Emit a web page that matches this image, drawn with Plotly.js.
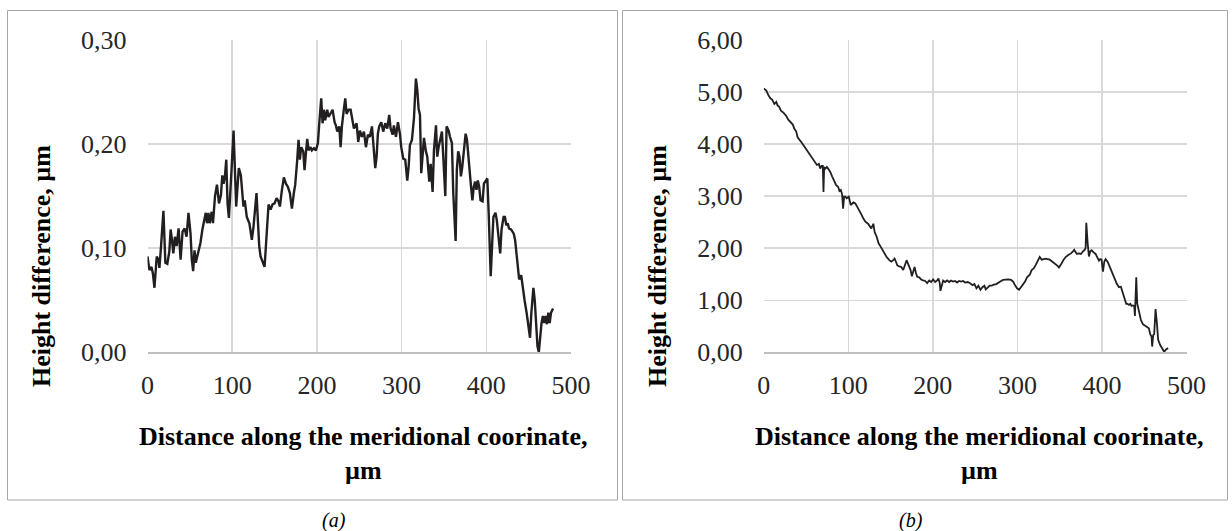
<!DOCTYPE html>
<html>
<head>
<meta charset="utf-8">
<script src="https://cdn.plot.ly/plotly-3.0.1.min.js"></script>
<style>
html,body{margin:0;padding:0;background:#fff;}
#chart{width:1232px;height:531px;}
</style>
</head>
<body>
<div id="chart"></div>
<script>
// Panel (a): height difference vs distance
var aX = [0,2.3,4.7,6.3,8.2,10.9,12.9,14.1,16,18.8,21.1,23.4,25.8,27.3,28.9,30.5,32.4,34.4,36.7,39.1,41.4,43.8,46.1,48.4,50.8,52.3,53.9,55.5,57,59.8,62.5,64.8,67.2,68.8,70.3,71.9,73.4,75.8,77.3,79.7,82,84.4,86.7,88.3,89.8,91.4,93,94.5,96.1,97.7,99.2,101.6,103.1,104.7,106.3,107.8,110.2,111.7,113.3,114.8,117.2,120.3,123.2,125.2,127.2,128.7,130.3,131.9,133.5,135.8,138.2,139.8,141.3,142.9,145.3,147.6,150,152.4,154.7,156.3,158.7,161,163.4,165.7,168.1,170.5,172.8,174.4,176.8,178.3,179.9,181.5,183.9,185.4,187,188.6,190.2,192.5,194.1,196.5,198.8,201.2,202.8,205.1,206.7,208.3,209.8,212.2,213.8,216.1,218.5,220.9,222.4,224,226.4,228,229.5,231.9,233.5,235,237.4,239.8,241.3,243.7,246.9,248.8,250.8,253.1,255.5,257.9,260.2,262.6,265,266.5,268.9,270.5,272,273.6,276,278.3,280.7,283.1,285.4,287,289.4,290.9,293.3,295.7,298,299.6,302,304.3,306.7,308.3,309.8,312.2,314.6,316.9,318.5,320.1,321.7,323.2,324.8,326.4,328.7,330.3,332.7,334.3,336.6,338.2,340.6,342.1,343.7,345.3,347.6,349.2,351.6,353.1,355.5,357.1,359.4,361,363.8,365.2,366.8,368.4,370,371.6,374,375.6,377.2,378.8,380.4,382,383.6,385.2,386.8,388.4,390,391.6,393.2,395.6,397.2,399.6,401.2,402.8,405.2,406.8,408.4,410.8,412.4,414.8,416.4,418,420.4,422,423.6,425.2,426.8,429.2,430.8,432.4,434,435.6,437.2,438.8,441.2,442.8,445.2,447.6,450,451.6,453.2,455.6,457.2,458.8,460.4,462,463.6,465.2,466.8,468.4,470,471.6,473.2,474.8,476.4,478.8];
var aY = [0.092,0.079,0.082,0.076,0.062,0.092,0.089,0.081,0.102,0.136,0.086,0.085,0.097,0.118,0.108,0.095,0.111,0.102,0.119,0.089,0.116,0.119,0.111,0.134,0.114,0.089,0.078,0.098,0.086,0.095,0.105,0.118,0.127,0.134,0.124,0.134,0.124,0.135,0.124,0.150,0.161,0.143,0.151,0.170,0.162,0.169,0.185,0.143,0.129,0.159,0.175,0.213,0.175,0.140,0.159,0.177,0.170,0.153,0.140,0.146,0.130,0.124,0.108,0.121,0.140,0.153,0.127,0.102,0.092,0.086,0.082,0.102,0.127,0.142,0.137,0.142,0.143,0.148,0.145,0.140,0.156,0.168,0.162,0.159,0.153,0.138,0.153,0.161,0.185,0.204,0.185,0.197,0.193,0.175,0.191,0.205,0.194,0.197,0.194,0.196,0.194,0.201,0.220,0.244,0.220,0.233,0.223,0.233,0.226,0.229,0.233,0.221,0.218,0.212,0.217,0.197,0.217,0.234,0.244,0.229,0.233,0.233,0.226,0.215,0.220,0.202,0.213,0.207,0.212,0.197,0.209,0.207,0.217,0.199,0.177,0.188,0.210,0.217,0.221,0.212,0.220,0.215,0.228,0.215,0.209,0.218,0.207,0.221,0.210,0.197,0.186,0.185,0.165,0.178,0.199,0.204,0.225,0.263,0.252,0.234,0.228,0.172,0.194,0.206,0.193,0.188,0.164,0.181,0.154,0.194,0.218,0.188,0.197,0.202,0.212,0.188,0.150,0.217,0.213,0.207,0.201,0.153,0.107,0.175,0.193,0.188,0.169,0.178,0.197,0.210,0.204,0.186,0.172,0.159,0.146,0.159,0.164,0.156,0.165,0.159,0.146,0.145,0.162,0.165,0.167,0.134,0.073,0.102,0.130,0.134,0.127,0.108,0.095,0.118,0.130,0.130,0.122,0.124,0.119,0.118,0.116,0.114,0.108,0.095,0.076,0.070,0.074,0.063,0.050,0.038,0.025,0.014,0.038,0.062,0.050,0.025,0.006,0.0,0.019,0.028,0.035,0.028,0.035,0.027,0.038,0.028,0.038,0.042];

// Panel (b)
var bX = [0,3.1,5.5,7.9,10.2,12.6,14.9,16.5,18.1,20.4,23.6,26.7,29.1,32.2,34.6,36.1,38.5,40.1,42.4,44.8,47.9,49.5,51.9,55,57.4,60.5,62.9,65.2,66.8,68.4,69.9,70.7,71.5,73.1,74.7,76.2,78.6,80.9,83.3,85.7,88,89.6,91.2,92.7,93.9,95.1,96.7,98.2,100.6,102.9,106.1,108.4,110.8,113.2,115.5,117.9,120.2,123.4,125.7,127.3,129.7,131.2,133.6,136,138.3,140.7,143,145.4,148.5,150.9,153.2,154.8,156.4,158,160.3,162.7,165,167.4,169,170.5,172.1,173.7,175.2,176.8,178.4,180,181.5,183.9,186.2,188.6,191,193.3,195.7,198,200.4,202.8,205.1,206.7,208.3,209,210.6,212.2,214.5,216.9,219.3,221.6,224,226.3,228.7,231,233.4,235.8,238.1,241.3,243.7,246.9,249.2,251.6,253.9,256.3,258.7,261,262.6,265,267.3,269.7,272,275.2,277.6,280.7,283.1,286.2,289.4,292.5,294.9,297.2,299.6,302,304.3,306.7,309.1,311.4,313,314.6,316.9,319.3,321.7,324,326.4,328.7,331.1,333.5,335.8,338.2,340.6,342.9,345.3,347.6,349.2,350.8,352.4,354.7,357.1,360.2,363.4,365.7,367.3,368.9,370.5,372.8,375.2,377.6,379.1,380.7,381.5,383.1,384.6,386.2,387.8,390.2,392.5,394.1,396.5,398,399.6,401.2,402.8,404.3,406.7,408.3,410.6,413,415.4,417.7,420.1,422.4,424,425.6,427.2,428.7,430.3,431.9,433.5,435,436.6,438.2,439,439.8,440.6,441.7,442.9,444.5,446.1,448.4,450.8,453.1,455.5,457.1,458.7,459.4,460.6,461.8,463.4,465,466.5,468.9,471.3,473.6,476,478.3];
var bY = [5.07,5.03,4.94,4.88,4.85,4.77,4.81,4.74,4.72,4.64,4.60,4.54,4.47,4.41,4.37,4.30,4.24,4.13,4.09,4.03,3.96,3.92,3.85,3.79,3.72,3.66,3.60,3.62,3.53,3.58,3.58,3.08,3.56,3.53,3.56,3.53,3.47,3.38,3.29,3.21,3.18,3.10,3.12,3.04,2.76,2.99,2.99,2.96,2.99,2.83,2.88,2.86,2.79,2.73,2.65,2.57,2.51,2.47,2.41,2.38,2.47,2.31,2.22,2.09,2.03,1.96,1.90,1.83,1.77,1.74,1.77,1.80,1.74,1.67,1.65,1.64,1.58,1.69,1.77,1.71,1.64,1.58,1.46,1.54,1.64,1.53,1.45,1.44,1.40,1.38,1.37,1.33,1.38,1.35,1.40,1.35,1.38,1.42,1.32,1.18,1.29,1.38,1.35,1.38,1.35,1.38,1.36,1.37,1.34,1.37,1.36,1.37,1.34,1.35,1.33,1.29,1.31,1.23,1.28,1.20,1.25,1.28,1.21,1.25,1.28,1.28,1.30,1.31,1.34,1.37,1.39,1.40,1.40,1.39,1.36,1.29,1.23,1.20,1.25,1.29,1.36,1.44,1.46,1.49,1.58,1.61,1.68,1.76,1.83,1.78,1.79,1.80,1.79,1.78,1.75,1.72,1.70,1.66,1.63,1.66,1.71,1.78,1.83,1.87,1.90,1.94,1.97,1.92,1.89,1.90,1.89,1.94,1.96,2.00,2.49,2.10,1.84,1.94,1.96,1.92,1.89,1.84,1.76,1.79,1.78,1.55,1.74,1.79,1.74,1.68,1.60,1.51,1.40,1.31,1.25,1.26,1.17,1.07,0.97,0.93,0.93,0.91,0.93,0.89,0.90,0.89,0.70,0.94,1.44,0.94,0.85,0.75,0.62,0.54,0.51,0.49,0.46,0.35,0.30,0.11,0.33,0.35,0.83,0.56,0.24,0.14,0.08,0.01,0.06,0.08];

var xTitle = "Distance along the meridional coorinate,<br>µm";
var yTitle = "Height difference, µm";
var panelLabels = ["(a)", "(b)"];

var W = 1232, H = 531;
function px(x){ return x / W; }
function py(y){ return 1 - y / H; }

var lineColor = "#231f20";
var traces = [
  {x: aX, y: aY, xaxis: "x", yaxis: "y", type: "scatter", mode: "lines",
   line: {color: lineColor, width: 2.4}, hoverinfo: "skip"},
  {x: bX, y: bY, xaxis: "x2", yaxis: "y2", type: "scatter", mode: "lines",
   line: {color: lineColor, width: 1.8}, hoverinfo: "skip"}
];

var tickFont = {family: "Liberation Serif, Times New Roman, serif", size: 26, color: "#262626"};
var gridC = "#d9d9d9";

function xAxis(domain, anchor){
  return {domain: domain, anchor: anchor, range: [0, 500], dtick: 100, tick0: 0,
    showgrid: true, gridcolor: gridC, gridwidth: 1.5, zeroline: false,
    showline: true, linecolor: "#bfbfbf", linewidth: 2, mirror: false,
    ticks: "", tickfont: tickFont, ticklabelstandoff: 8, fixedrange: true};
}
function yAxis(domain, anchor, rng, dt){
  return {domain: domain, anchor: anchor, range: rng, dtick: dt, tick0: 0,
    showgrid: true, gridcolor: gridC, gridwidth: 1.5, zeroline: false,
    showline: false, ticks: "", tickformat: ".2f",
    tickfont: tickFont, ticklabelstandoff: 20, fixedrange: true};
}

var yDom = [py(352.3), py(40)];
var layout = {
  width: W, height: H,
  margin: {l: 0, r: 0, t: 0, b: 0},
  paper_bgcolor: "#ffffff", plot_bgcolor: "#ffffff",
  showlegend: false,
  separators: ", ",
  xaxis: xAxis([px(147.5), px(571)], "y"),
  yaxis: yAxis(yDom, "x", [0, 0.3], 0.1),
  xaxis2: xAxis([px(763.7), px(1186.5)], "y2"),
  yaxis2: yAxis(yDom, "x2", [0, 6], 1),
  shapes: [
    {type: "rect", xref: "paper", yref: "paper", x0: px(7.5), x1: px(617.5), y0: py(500), y1: py(10.5),
     line: {color: "#a6a6a6", width: 1}},
    {type: "rect", xref: "paper", yref: "paper", x0: px(622.5), x1: px(1227.5), y0: py(500), y1: py(10.5),
     line: {color: "#a6a6a6", width: 1}}
  ],
  annotations: []
};

var titleFont = {family: "Liberation Serif, Times New Roman, serif", size: 26, color: "#000000"};
var xTitleCenters = [362.5, 978.5];
var yTitleCenters = [41, 657];
var labelCenters = [334, 910.5];
for (var i = 0; i < 2; i++) {
  layout.annotations.push({xref: "paper", yref: "paper", x: px(xTitleCenters[i]), y: py(453),
    xanchor: "center", yanchor: "middle", showarrow: false, align: "center",
    text: "<b>" + xTitle.replace("<br>", "</b><br><b>") + "</b>", font: titleFont});
  layout.annotations.push({xref: "paper", yref: "paper", x: px(yTitleCenters[i]), y: py(266),
    xanchor: "center", yanchor: "middle", showarrow: false, textangle: -90,
    text: "<b>" + yTitle + "</b>", font: titleFont});
  layout.annotations.push({xref: "paper", yref: "paper", x: px(labelCenters[i]), y: py(520),
    xanchor: "center", yanchor: "middle", showarrow: false,
    text: "<i>" + panelLabels[i] + "</i>",
    font: {family: "Liberation Serif, Times New Roman, serif", size: 20, color: "#000000"}});
}

Plotly.newPlot("chart", traces, layout, {staticPlot: true, displayModeBar: false});
</script>
</body>
</html>
